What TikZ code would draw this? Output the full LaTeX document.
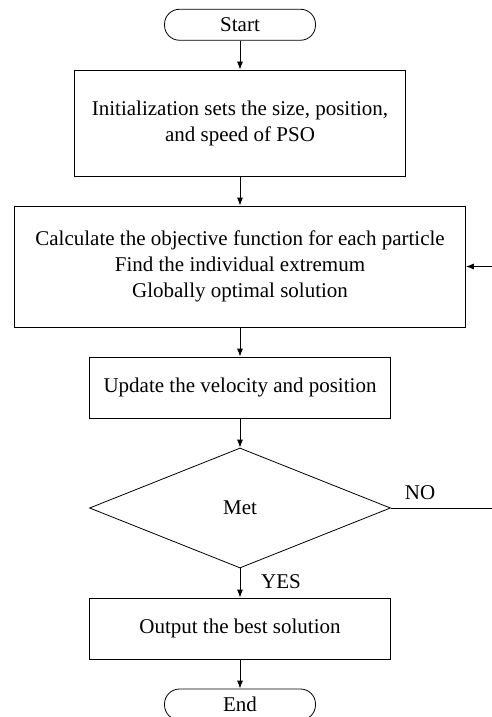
\documentclass[tikz,border=0pt]{standalone}
\usepackage{fontspec}
\setmainfont{Liberation Serif}
\usetikzlibrary{shapes.geometric,arrows.meta}

\begin{document}
\begin{tikzpicture}[%
    x=1pt, y=-1pt,
    font=\fontsize{21}{26}\selectfont,
    line width=0.8pt,
    >={Latex[length=8pt,width=6pt]}, % arrow tips
    terminal/.style={draw, rounded corners=15pt, minimum width=151pt,
        minimum height=31pt, inner sep=0pt},
    box/.style={draw, align=center, inner sep=0pt},
    decision/.style={draw, diamond, minimum width=301pt,
        minimum height=120pt, inner sep=0pt}
    ]
        \useasboundingbox (0,0) rectangle (492,717);

        % Blocks
        \node (start) [terminal] at (240,24.75) {Start};
        \node (init) [box, minimum width=331pt, minimum height=106pt]
            at (240,123) {Initialization sets the size, position,\\ and speed of PSO};
        \node (calc) [box, minimum width=451pt, minimum height=121pt]
            at (240,266.5) {Calculate the objective function for each particle\\
            Find the individual extremum\\ Globally optimal solution};
        \node (update) [box, minimum width=301pt, minimum height=61pt]
            at (240,387.5) {Update the velocity and position};
        \node (met) [decision] at (240,508) {Met};
        \node (output) [box, minimum width=301pt, minimum height=61pt]
            at (240,628.5) {Output the best solution};
        \node (end) [terminal] at (240,704.5) {End};

        % loop back
        \coordinate (loop) at (498,0);

        % Arrows
        \draw[->] (start) -- (init);
        \draw[->] (init) -- (calc);
        \draw[->] (calc) -- (update);
        \draw[->] (update) -- (met);
        \draw[->] (met) -- (output);
        \draw[->] (output) -- (end);
        \draw[->] (met.east) -- (loop |- met.east) -- (loop |- calc.east) -- (calc.east);

        % Labels
        \node (no) at (420,493) {NO};
        \node (yes) at (281,582) {YES};
    \end{tikzpicture}
\end{document}
